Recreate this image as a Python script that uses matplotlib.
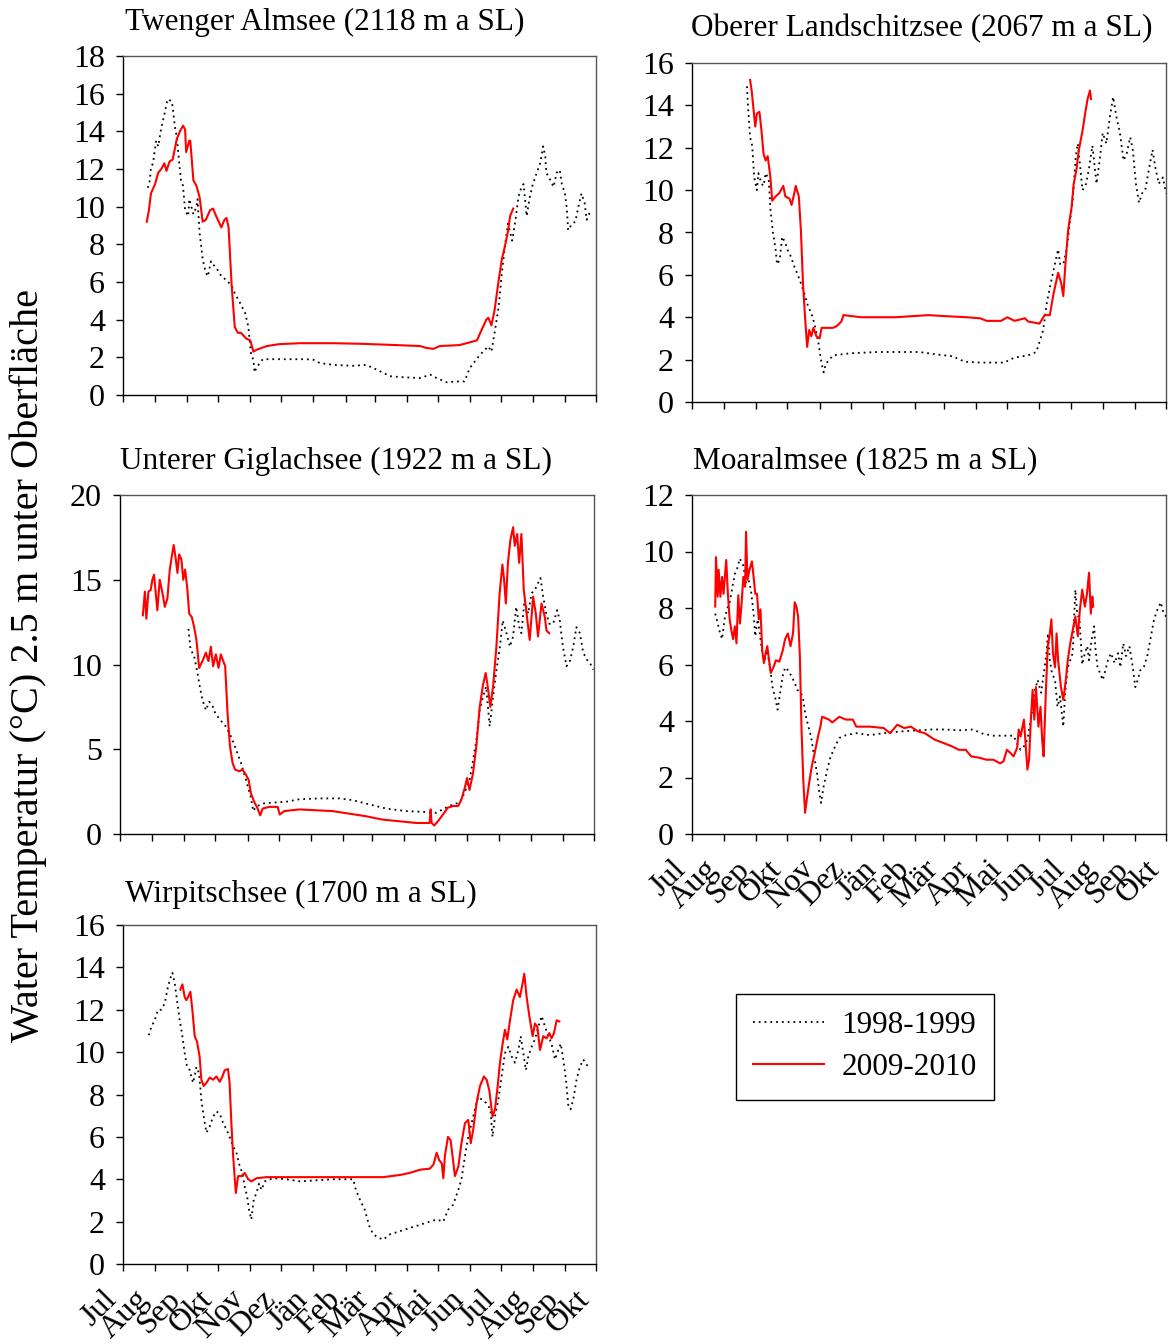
import matplotlib
matplotlib.use('Agg')
import matplotlib.pyplot as plt
from matplotlib.lines import Line2D

plt.rcParams['font.family'] = ['Liberation Serif', 'DejaVu Serif']

# x positions are days since 1 July of the first year
month_ticks = [0, 31, 62, 92, 123, 153, 184, 215, 243, 274, 304, 335, 365, 396, 427, 457]
month_labels = ['Jul', 'Aug', 'Sep', 'Okt', 'Nov', 'Dez', 'Jän', 'Feb', 'Mär', 'Apr',
                'Mai', 'Jun', 'Jul', 'Aug', 'Sep', 'Okt']
series_labels = ['1998-1999', '2009-2010']

# ---------------- Twenger Almsee ----------------
twenger_9899 = [(24,11.0),(26,11.4),(27,12.1),(29,12.3),(32,13.5),(34,13.2),(37,14.2),(40,14.9),(43,15.7),
    (47,15.6),(48,15.3),(50,14.3),(52,13.7),(54,12.5),(56,11.4),(58,11.1),(60,9.8),(63,9.5),(64,10.4),
    (68,9.6),(71,10.0),(72,10.4),(74,8.6),(76,7.7),(77,7.2),(80,6.5),(82,6.3),(85,7.1),(89,6.8),(92,6.6),
    (95,6.3),(100,6.1),(105,5.8),(108,5.4),(113,4.9),(118,4.35),(121,3.65),(124,2.05),(126,1.9),(127,1.2),
    (129,1.45),(135,1.9),(145,1.9),(164,1.9),(177,1.9),(184,1.87),(190,1.7),(203,1.6),(222,1.55),(235,1.6),
    (245,1.35),(258,1.0),(268,0.95),(287,0.9),(297,1.08),(303,0.9),(313,0.67),(322,0.72),(330,0.72),
    (335,1.43),(345,2.14),(353,2.58),(356,2.3),(359,3.3),(363,4.7),(366,6.45),(369,7.9),(372,9.1),(376,8.2),
    (379,9.2),(382,10.5),(385,11.05),(387,11.2),(390,9.5),(393,10.5),(396,11.2),(403,12.3),(406,13.2),
    (408,12.65),(409,11.8),(413,11.4),(416,11.05),(419,11.8),(422,11.95),(424,11.2),(427,10.7),(429,9.8),
    (430,8.75),(434,9.1),(437,9.2),(440,10.0),(443,10.7),(446,10.2),(448,9.3),(451,9.7)]
twenger_0910 = [(23,9.2),(25,9.8),(27,10.7),(31,11.2),(34,11.8),(37,12.0),(40,12.3),(42,11.9),(45,12.4),
    (48,12.5),(52,13.6),(55,14.0),(58,14.3),(60,14.1),(61,12.9),(64,13.5),(65,13.5),(68,11.4),(71,11.1),
    (74,10.5),(77,9.2),(80,9.3),(84,9.8),(87,9.9),(90,9.5),(95,8.9),(98,9.3),(100,9.4),(102,8.9),(105,5.8),
    (108,3.6),(111,3.3),(114,3.3),(119,3.0),(123,2.9),(126,2.3),(129,2.4),(139,2.6),(151,2.7),(171,2.75),
    (203,2.75),(229,2.72),(255,2.67),(287,2.6),(293,2.5),(300,2.45),(306,2.6),(325,2.65),(332,2.75),
    (342,2.9),(346,3.4),(351,4.0),(353,4.1),(356,3.7),(359,4.5),(363,6.1),(366,7.2),(369,7.9),(372,8.7),
    (374,9.5),(377,9.9)]

# ---------------- Oberer Landschitzsee ----------------
oberer_9899 = [(53,14.9),(54,13.95),(56,12.5),(58,12.1),(60,10.6),(62.5,10.0),(64,10.8),(67,10.3),(69,10.2),
    (71,10.8),(74,10.5),(75.6,9.1),(78,8.0),(80.6,7.2),(82,6.5),(84.5,6.7),(87,7.8),(90,7.5),(92,7.2),
    (95,6.9),(98.6,6.4),(102,6.0),(105,5.6),(108.5,5.1),(112,4.5),(115,4.2),(118,3.7),(122,2.76),(125,1.8),
    (127,1.4),(129,1.8),(136,2.2),(153,2.3),(179,2.36),(196,2.36),(219,2.36),(235,2.25),(251,2.16),
    (263,1.9),(278,1.86),(301,1.86),(311,2.1),(324,2.2),(332,2.36),(338.6,3.4),(342,4.65),(345,5.4),
    (348.5,6.2),(353,7.2),(355,6.5),(358,6.5),(361.6,7.3),(364,8.4),(367,9.5),(370,11.6),(372,12.2),
    (376.5,10.0),(380,10.3),(383,11.1),(386,12.1),(390,10.3),(393,11.4),(396,12.7),(399.5,12.2),
    (403,13.5),(406,14.4),(409,13.5),(412.6,12.7),(416,11.4),(419,11.7),(422.5,12.5),(425,11.9),
    (428,10.3),(431,9.4),(434,9.85),(437,10.0),(440.6,11.0),(444,11.9),(447,11.0),(450,10.3),(454,10.6),
    (457,9.85)]
oberer_0910 = [(56,15.2),(57.5,14.7),(61,13.0),(62.5,13.6),(65,13.7),(67,12.8),(69,11.7),(71,11.4),(73,11.6),
    (75.6,10.6),(77.3,9.5),(80.6,9.7),(84,9.85),(88,10.2),(90,9.7),(94,9.6),(96,9.3),(98.6,9.85),(100,10.2),
    (103,9.7),(105,8.1),(107,5.6),(109,4.0),(111,2.6),(113,3.4),(115,3.1),(117,3.5),(120,3.1),(123,3.0),
    (125,3.5),(136,3.5),(140,3.6),(144,3.8),(146,4.1),(163,4.0),(196,4.0),(228,4.1),(245,4.05),(265,4.0),
    (278,3.95),(284,3.83),(298,3.83),(304,4.0),(311,3.83),(321,3.95),(324,3.8),(335,3.7),(340,4.1),
    (345,4.1),(348.5,5.1),(353,6.1),(356,5.6),(358,5.0),(360,6.5),(362.6,8.1),(366,9.2),(368,10.3),
    (370.6,10.95),(373,11.9),(376.5,12.8),(379,13.6),(381.4,14.3),(383.7,14.7),(384.7,14.3)]

# ---------------- Unterer Giglachsee ----------------
giglach_9899 = [(66,12.1),(68,10.9),(71.5,10.5),(74.7,9.5),(76.3,8.9),(79.5,7.9),(82.8,7.3),(86,7.8),
    (89,7.6),(92,7.1),(97,6.7),(102,6.35),(107,5.75),(112,4.97),(116.6,4.2),(121.4,3.2),(126,2.2),
    (128.5,1.35),(131,1.6),(137.5,1.8),(147,1.85),(160,1.9),(173,2.05),(192,2.1),(211.5,2.1),(224,2.0),
    (237,1.8),(256.6,1.5),(276,1.35),(295,1.3),(305,1.25),(311,1.45),(321,1.75),(327.5,1.85),(332,2.4),
    (337,3.2),(340,4.2),(343.6,5.55),(346.8,7.3),(350,8.1),(353,8.7),(356.4,6.35),(359.7,8.1),(363,9.7),
    (366,10.9),(369,12.6),(372.6,11.85),(376,11.05),(379,11.65),(382,13.4),(385,12.2),(387,11.85),
    (390,13.8),(393.5,13.0),(396.7,14.2),(400,14.4),(403,14.8),(405.4,15.1),(408,14.0),(411,13.0),
    (414,12.4),(417.6,12.4),(421.5,13.2),(424,12.6),(427,11.05),(430.5,9.9),(433.7,10.2),(437,11.05),
    (440,12.2),(443.4,11.85),(446.6,10.7),(450,10.3),(453,10.1),(456.3,9.7)]
giglach_0910 = [(22,12.9),(24,14.3),(25.4,12.7),(27.4,14.3),(29.6,14.4),(31.2,15.0),(32.8,15.3),(34.5,14.2),
    (36,13.2),(38.3,15.0),(41,14.2),(43.2,13.4),(45.7,13.9),(48,15.6),(50,16.4),(51.8,17.05),(53.8,16.2),
    (55.4,15.4),(57,16.5),(59.2,16.2),(61,15.0),(62.8,15.6),(65,14.4),(66.7,13.0),(69.2,12.8),(71.5,12.2),
    (73.7,11.45),(76.3,9.8),(79.5,10.2),(82.8,10.7),(85.3,10.2),(87.6,11.05),(89.8,9.9),(92.4,10.6),
    (95,9.8),(97.2,10.6),(99.5,10.2),(101.4,9.9),(103.7,7.1),(106,5.2),(108.5,4.2),(111,3.8),(115,3.7),
    (118,3.8),(121.4,3.5),(124,3.2),(126.2,2.4),(129.4,1.9),(132.7,1.5),(135.2,1.1),(137.5,1.5),(144,1.6),
    (152,1.6),(154,1.15),(158.4,1.35),(173,1.45),(189,1.4),(205,1.35),(221,1.2),(237,1.05),(253,0.85),
    (269.5,0.75),(285.6,0.65),(298.5,0.65),(299.5,1.45),(300.4,0.65),(303,0.5),(306.5,0.75),(311.4,1.15),
    (316,1.55),(321,1.65),(326,1.65),(329,2.0),(332.3,2.7),(334.6,3.3),(337,2.6),(340.4,3.6),(343.6,5.2),
    (346.8,7.5),(350,8.8),(352.6,9.5),(355,8.5),(357,7.5),(359.7,8.7),(362.9,11.05),(366,14.2),
    (368.7,15.9),(370.3,15.0),(372,13.6),(374,16.0),(376.4,17.35),(379,18.1),(380.6,17.0),(382.9,17.7),
    (384.8,16.0),(387,17.7),(389.3,14.4),(392,13.0),(395,11.45),(398.3,14.0),(400.9,13.0),(403,11.65),
    (406.4,13.6),(409.6,12.8),(411.2,12.0),(413.8,11.85)]

# ---------------- Moaralmsee ----------------
moar_9899 = [(22.4,7.8),(24.8,7.45),(26.4,7.2),(29,6.9),(31.4,7.6),(33.7,7.95),(36.3,8.2),(39,8.75),
    (41.3,9.2),(43.6,9.4),(46.2,9.75),(47.9,9.6),(49.5,9.5),(52,8.9),(54.5,9.0),(56.8,8.65),(59.4,7.8),
    (61,7.0),(63.4,7.6),(65.4,7.1),(67.7,6.4),(70,6.15),(72.6,6.5),(75.2,5.9),(77.6,5.2),(80,4.87),
    (82.5,4.4),(85,5.0),(87.5,5.6),(89.8,5.9),(92.4,5.8),(95.7,5.6),(99,5.35),(101.6,5.1),(105,5.0),
    (107.3,4.75),(109,4.3),(112.2,3.8),(114.8,3.45),(117.2,2.87),(120.5,2.16),(122.8,1.45),(124.4,1.1),
    (127,1.7),(130.4,2.28),(133.7,2.75),(138,3.1),(142,3.4),(148.5,3.5),(158.4,3.57),(171.6,3.5),
    (184.8,3.57),(201,3.63),(218,3.67),(231,3.7),(244,3.7),(257.4,3.67),(270.6,3.7),(280.5,3.55),
    (290.4,3.48),(303.6,3.48),(310,3.48),(313.5,3.2),(316.8,2.98),(320,3.1),(323.4,3.34),(326.7,4.05),
    (330,5.0),(333.3,5.45),(336.6,5.0),(339.2,5.7),(341.5,6.3),(343.2,7.1),(345,6.15),(347,5.7),(350,5.45),
    (352.4,4.5),(354.8,4.87),(358,3.8),(359.7,5.0),(362.3,5.9),(364.7,6.15),(367,6.4),(369.6,8.65),
    (371.3,7.8),(373.6,7.6),(376.2,6.0),(378.8,6.4),(381,6.65),(382.8,6.15),(385.4,6.9),(387.8,7.35),
    (388.7,6.65),(391,5.9),(393.4,5.7),(396,5.45),(398.6,5.8),(401,6.15),(404,6.4),(407.5,6.05),
    (410.8,6.4),(413,5.9),(415.8,6.75),(418.4,6.3),(421.7,6.65),(425,5.9),(427.4,5.2),(429.7,5.45),
    (432.3,5.8),(435.6,5.9),(438.9,6.3),(442,6.9),(445.5,7.6),(448.8,7.95),(452,8.2),(454.7,7.8),(457,7.7)]
moar_0910 = [(22.4,8.05),(23.1,9.8),(24.8,8.4),(25.7,9.35),(27.4,8.4),(29,9.1),(30.4,8.5),(31.7,9.1),
    (33,9.7),(34.6,8.5),(36.3,7.6),(38,7.2),(39.6,6.9),(41.3,7.35),(42.9,6.75),(44.6,8.45),(46.2,7.45),
    (47.9,8.2),(49.5,9.1),(51.2,8.75),(52.1,10.7),(53.5,9.0),(55.4,9.35),(57.8,9.65),(59.4,9.1),(61,8.5),
    (62.7,8.5),(64.4,7.6),(66,7.95),(67.7,6.5),(69.3,6.05),(71,6.4),(72.6,6.65),(74.3,6.15),(75.9,5.7),
    (78.5,5.9),(80.9,6.15),(84.2,6.1),(87.5,6.5),(89.8,6.9),(92.4,7.1),(95,6.65),(97.4,7.1),(99,8.2),
    (100.7,8.05),(102.3,7.7),(104,6.3),(105.6,3.7),(107.3,1.9),(109,0.75),(110.6,1.2),(112.9,1.8),
    (115.5,2.4),(118.2,2.85),(121.5,3.45),(123.8,3.8),(125.4,4.15),(132,4.05),(135.3,3.95),(142,4.15),
    (148.5,4.05),(155,4.05),(158.4,3.8),(171.6,3.8),(184.8,3.75),(191,3.57),(198,3.87),(204.6,3.75),
    (211,3.8),(218,3.63),(224.4,3.57),(234,3.34),(244,3.2),(250.8,3.1),(257.4,2.98),(264,2.98),(269,2.75),
    (277,2.7),(283.8,2.63),(290.4,2.63),(297,2.5),(300.3,2.57),(303.6,2.98),(307,2.87),(310,2.75),
    (313.5,3.05),(315,3.7),(316.8,3.45),(320,4.05),(321.8,3.1),(323.4,2.28),(325,2.63),(326.7,4.05),
    (328.4,5.1),(330,4.05),(331.6,5.2),(334,3.8),(336,4.5),(337.6,3.34),(339,2.75),(341,4.87),(343,6.65),
    (345,7.1),(346.5,7.6),(348,6.4),(350,5.9),(351.5,7.1),(353,6.15),(355.7,5.2),(358,4.75),(360.4,5.45),
    (362.3,6.15),(364.7,6.75),(367,7.2),(369.6,7.7),(372,7.0),(374,7.95),(376.2,8.65),(378.8,8.05),
    (380.8,8.5),(382.8,9.25),(384.5,7.8),(386,8.4),(386.8,8.05)]

# ---------------- Wirpitschsee ----------------
wirp_9899 = [(25,10.8),(27.4,11.2),(30.6,11.5),(33.8,12.0),(37,12.0),(40.3,12.3),(43.5,13.1),(45.8,13.5),
    (47.7,13.75),(50,13.25),(52.2,12.45),(54.8,11.5),(57.4,10.75),(59.6,9.95),(61.9,9.3),(64.5,9.15),
    (67.7,8.55),(71,9.3),(73.5,9.0),(75.7,7.75),(78,6.95),(80.6,6.2),(83.8,6.5),(87,6.95),(90.2,7.2),
    (93.5,7.1),(96.7,6.65),(100,6.35),(103,6.0),(106.4,5.55),(109.6,5.25),(112.8,4.6),(115.4,4.3),
    (117.6,3.65),(119.9,3.2),(121.8,2.55),(124,2.1),(126.3,3.05),(129,3.35),(131.5,3.8),(133.8,3.5),
    (137,3.9),(145,4.05),(158,4.0),(170.8,3.9),(187,3.95),(203,4.0),(216,4.0),(222.4,4.0),(225,3.5),
    (228.8,3.05),(233.7,2.55),(237.9,1.8),(241.7,1.4),(246.6,1.25),(251.4,1.15),(258,1.4),(267.5,1.55),
    (277,1.7),(287,1.85),(296.5,2.0),(303,2.1),(309.5,2.0),(314,2.55),(319,2.8),(324,3.5),(327,4.0),
    (330.4,5.1),(333.6,6.0),(336.8,6.65),(340,7.3),(343.2,7.9),(348,7.7),(351,7.6),(355,7.3),(357,6.0),
    (359.4,6.95),(362.6,7.75),(365.8,8.85),(369,9.95),(372.3,10.25),(375.5,9.8),(378.7,9.5),(382,10.1),
    (384.2,10.75),(386.8,9.95),(389.3,9.15),(391.6,9.8),(394.8,10.25),(398,10.6),(401.3,11.2),
    (404.5,11.7),(407.7,11.2),(411,10.75),(414,10.4),(417.4,9.65),(420.6,10.1),(423,10.4),(425.4,9.65),
    (428,8.7),(430.3,7.45),(432.4,7.3),(435,7.75),(438.2,8.7),(441.4,9.3),(444.7,9.65),(447.9,9.4),(451,9.3)]
wirp_0910 = [(55.4,12.95),(57.4,13.2),(59.6,12.6),(61.2,12.45),(62.8,12.6),(65.1,12.85),(67,12.0),
    (69.3,10.75),(71.5,10.5),(74,9.8),(75.7,8.7),(78,8.4),(80.6,8.55),(83.8,8.8),(87,8.7),(90.2,8.85),
    (93.5,8.6),(96,8.85),(98.3,9.15),(101.5,9.2),(103,8.55),(104.7,6.65),(106.4,5.1),(109,3.35),
    (111.2,4.15),(114.4,4.15),(117.6,4.3),(120.9,4.0),(124,3.9),(129,4.05),(138.6,4.1),(154.7,4.1),
    (170.8,4.1),(187,4.1),(203,4.1),(219,4.1),(235,4.1),(251.4,4.1),(259.5,4.15),(267.5,4.2),(277,4.3),
    (287,4.45),(296.5,4.5),(300,4.7),(303,5.25),(305.5,4.9),(308,4.75),(309.5,4.05),(311,5.1),(314,6.0),
    (316.5,5.85),(318.4,5.1),(320.7,4.15),(324,4.6),(327,5.7),(330.4,6.65),(333.6,6.8),(336,5.7),
    (338.4,6.35),(341.6,7.6),(344.9,8.4),(348.7,8.85),(351.3,8.7),(353.9,8.2),(357,6.95),(359.4,7.3),
    (362,8.4),(364.2,9.5),(366.8,10.4),(369,11.05),(371.3,10.6),(373.9,11.5),(377,12.45),(380.3,12.95),
    (383.5,12.6),(385.5,13.1),(387.7,13.7),(390,12.6),(392.6,11.7),(395.8,10.75),(398,11.35),
    (400.3,11.2),(402.9,10.1),(406,10.75),(409.3,10.65),(411.9,10.9),(414,10.65),(416.4,10.9),
    (419,11.5),(421.6,11.45)]

W, H = 1174, 1344
fig = plt.figure(figsize=(W / 100, H / 100), dpi=100)

def rect(l, t, r, b):
    return [l / W, 1 - b / H, (r - l) / W, (b - t) / H]

panels = [
    ('Twenger Almsee (2118 m a SL)', twenger_9899, twenger_0910, 18, 2, rect(123, 56, 596, 395), (125, 22), False),
    ('Oberer Landschitzsee (2067 m a SL)', oberer_9899, oberer_0910, 16, 2, rect(692, 63, 1166, 402), (691, 29), False),
    ('Unterer Giglachsee (1922 m a SL)', giglach_9899, giglach_0910, 20, 5, rect(120, 495, 594, 834), (120, 461), False),
    ('Moaralmsee (1825 m a SL)', moar_9899, moar_0910, 12, 2, rect(692, 495, 1166, 834), (693, 461), True),
    ('Wirpitschsee (1700 m a SL)', wirp_9899, wirp_0910, 16, 2, rect(123, 925, 596, 1264), (125, 894), True),
]

for title, d98, d10, ymax, ystep, r, txy, show_x in panels:
    ax = fig.add_axes(r)
    ax.plot([p[0] for p in d98], [p[1] for p in d98], color='black', lw=1.3,
            linestyle=(0, (1, 2.2)))
    ax.plot([p[0] for p in d10], [p[1] for p in d10], color='red', lw=1.5)
    ax.set_xlim(0, 457)
    ax.set_ylim(0, ymax)
    ax.set_yticks(list(range(0, ymax + 1, ystep)))
    ax.set_xticks(month_ticks)
    if show_x:
        ax.set_xticklabels(month_labels, rotation=45, ha='right', va='top', fontsize=23)
    else:
        ax.set_xticklabels([])
    ax.tick_params(axis='both', direction='out', length=5, width=1, labelsize=23)
    ax.tick_params(axis='y', pad=8)
    ax.tick_params(axis='x', pad=10)
    for s in ax.spines.values():
        s.set_linewidth(1)
        s.set_color('black')
    for s in ('top', 'right'):
        ax.spines[s].set_color('#555555')
    fig.text(txy[0] / W, 1 - txy[1] / H, title, fontsize=22.5, ha='left', va='center')

fig.text(28 / W, 1 - 665 / H, 'Water Temperatur (°C) 2.5 m unter Oberfläche',
         rotation=90, fontsize=29, ha='center', va='center')

handles = [Line2D([], [], color='black', lw=1.3, linestyle=(0, (1, 2.2))),
           Line2D([], [], color='red', lw=1.5)]
leg = fig.legend(handles, series_labels, loc='upper left',
                 bbox_to_anchor=(736 / W, 1 - 994 / H), fontsize=22.5,
                 frameon=True, fancybox=False, edgecolor='black', framealpha=1,
                 handlelength=2.25, handletextpad=0.58, borderpad=0.55, labelspacing=0.42,
                 borderaxespad=0)
leg.get_frame().set_linewidth(1)

fig.savefig('out.png', dpi=100)
